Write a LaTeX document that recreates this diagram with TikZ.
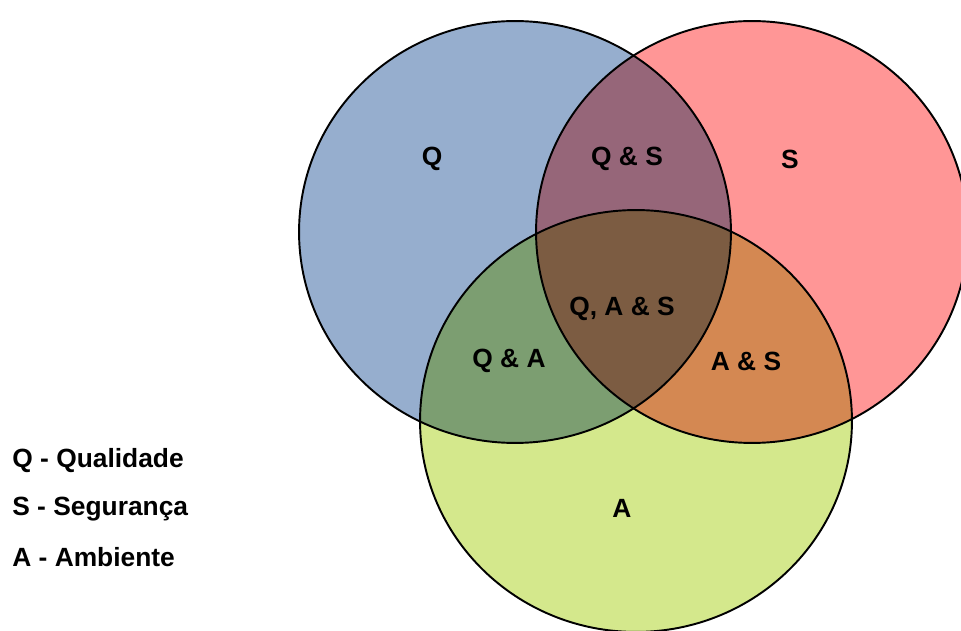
\documentclass[tikz,border=0pt]{standalone}
\usepackage{fontspec}
\setmainfont{Liberation Sans}
\usepackage{xcolor}
\definecolor{qblue}{RGB}{150,174,206}
\definecolor{sred}{RGB}{255,150,150}
\definecolor{agreen}{RGB}{212,232,140}

\begin{document}
\begin{tikzpicture}[x=0.02cm, y=-0.02cm,
  setlabel/.style={font=\fontsize{15}{18}\selectfont\bfseries},
  setshape/.style={draw=black, line width=1.1pt}]

% Page size
\useasboundingbox (0,0) rectangle (961,631);

% Circles
\begin{scope}[blend group=multiply]
  \fill[qblue] (515,232) ellipse [x radius=4.32cm, y radius=4.22cm];
  \fill[sred] (752,232) ellipse [x radius=4.32cm, y radius=4.22cm];
  \fill[agreen] (636,421) ellipse [x radius=4.32cm, y radius=4.22cm];
\end{scope}
\draw[setshape] (515,232) ellipse [x radius=4.32cm, y radius=4.22cm];
\draw[setshape] (752,232) ellipse [x radius=4.32cm, y radius=4.22cm];
\draw[setshape] (636,421) ellipse [x radius=4.32cm, y radius=4.22cm];

% Region labels
\node[setlabel] (lblQ) at (432,159) {Q};
\node[setlabel] (lblQS) at (627,159) {Q \& S};
\node[setlabel] (lblS) at (790,159) {S};
\node[setlabel] (lblQAS) at (622,309) {Q, A \& S};
\node[setlabel] (lblQA) at (509,361) {Q \& A};
\node[setlabel] (lblAS) at (746,361) {A \& S};
\node[setlabel] (lblA) at (622,508) {A};

% Legend
\node[setlabel, anchor=west, inner sep=0pt] (legQ) at (12,461) {Q - Qualidade};
\node[setlabel, anchor=west, inner sep=0pt] (legS) at (12,509) {S - Segurança};
\node[setlabel, anchor=west, inner sep=0pt] (legA) at (12,557) {A - Ambiente};

\end{tikzpicture}
\end{document}
